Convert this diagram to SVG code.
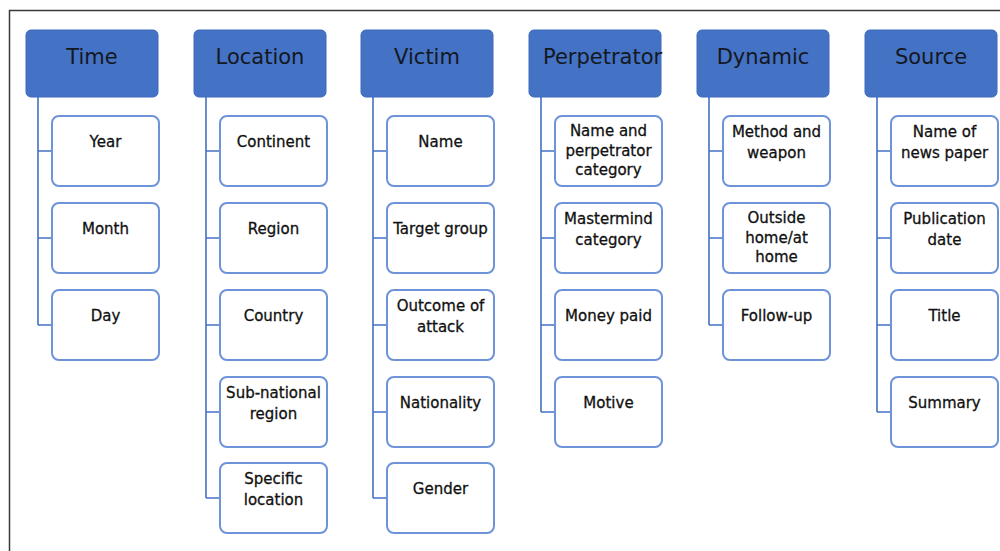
<svg xmlns="http://www.w3.org/2000/svg" width="1000" height="551" viewBox="0 0 1000 551">
<style>
.hdr{fill:#4472C4;stroke:#3F6BBD;stroke-width:1}
.hdr-t{font-family:"DejaVu Sans",sans-serif;font-size:21px;fill:#14181f;text-anchor:middle}
.kid{fill:#ffffff;stroke:#6E93D8;stroke-width:2}
.kid-t{font-family:"DejaVu Sans",sans-serif;font-size:15px;fill:#111111;stroke:#111111;stroke-width:0.3;text-anchor:middle}
.conn{fill:none;stroke:#4472C4;stroke-width:1.6}
.frame{fill:none;stroke:#3a3a3a;stroke-width:1.5}
</style>
<rect width="1000" height="551" fill="#ffffff"/>
<path class="frame" d="M1000 10.5 H9.5 V551"/>
<g id="connectors">
<path class="conn" d="M38 97 V325 M38 151 H52 M38 238 H52 M38 325 H52"/>
<path class="conn" d="M206 97 V498 M206 151 H220 M206 238 H220 M206 325 H220 M206 412 H220 M206 498 H220"/>
<path class="conn" d="M373 97 V498 M373 151 H387 M373 238 H387 M373 325 H387 M373 412 H387 M373 498 H387"/>
<path class="conn" d="M541 97 V412 M541 151 H555 M541 238 H555 M541 325 H555 M541 412 H555"/>
<path class="conn" d="M709 97 V325 M709 151 H723 M709 238 H723 M709 325 H723"/>
<path class="conn" d="M877 97 V412 M877 151 H891 M877 238 H891 M877 325 H891 M877 412 H891"/>
</g>
<g id="time">
<rect class="hdr" x="26" y="30" width="132" height="67" rx="5"/>
<text class="hdr-t" x="92" y="64">Time</text>
</g>
<g id="time-year"><rect class="kid" x="52" y="116" width="107" height="70" rx="7"/><text class="kid-t" x="105.5" y="147">Year</text></g>
<g id="time-month"><rect class="kid" x="52" y="203" width="107" height="70" rx="7"/><text class="kid-t" x="105.5" y="234">Month</text></g>
<g id="time-day"><rect class="kid" x="52" y="290" width="107" height="70" rx="7"/><text class="kid-t" x="105.5" y="321">Day</text></g>

<g id="location">
<rect class="hdr" x="194" y="30" width="132" height="67" rx="5"/>
<text class="hdr-t" x="260" y="64">Location</text>
</g>
<g id="loc-continent"><rect class="kid" x="220" y="116" width="107" height="70" rx="7"/><text class="kid-t" x="273.5" y="147">Continent</text></g>
<g id="loc-region"><rect class="kid" x="220" y="203" width="107" height="70" rx="7"/><text class="kid-t" x="273.5" y="234">Region</text></g>
<g id="loc-country"><rect class="kid" x="220" y="290" width="107" height="70" rx="7"/><text class="kid-t" x="273.5" y="321">Country</text></g>
<g id="loc-subnational"><rect class="kid" x="220" y="377" width="107" height="70" rx="7"/><text class="kid-t" x="273.5" y="398">Sub-national</text><text class="kid-t" x="273.5" y="418.5">region</text></g>
<g id="loc-specific"><rect class="kid" x="220" y="463" width="107" height="70" rx="7"/><text class="kid-t" x="273.5" y="484">Specific</text><text class="kid-t" x="273.5" y="504.5">location</text></g>

<g id="victim">
<rect class="hdr" x="361" y="30" width="132" height="67" rx="5"/>
<text class="hdr-t" x="427" y="64">Victim</text>
</g>
<g id="vic-name"><rect class="kid" x="387" y="116" width="107" height="70" rx="7"/><text class="kid-t" x="440.5" y="147">Name</text></g>
<g id="vic-target"><rect class="kid" x="387" y="203" width="107" height="70" rx="7"/><text class="kid-t" x="440.5" y="234">Target group</text></g>
<g id="vic-outcome"><rect class="kid" x="387" y="290" width="107" height="70" rx="7"/><text class="kid-t" x="440.5" y="311">Outcome of</text><text class="kid-t" x="440.5" y="331.5">attack</text></g>
<g id="vic-nationality"><rect class="kid" x="387" y="377" width="107" height="70" rx="7"/><text class="kid-t" x="440.5" y="408">Nationality</text></g>
<g id="vic-gender"><rect class="kid" x="387" y="463" width="107" height="70" rx="7"/><text class="kid-t" x="440.5" y="494">Gender</text></g>

<g id="perpetrator">
<rect class="hdr" x="529" y="30" width="132" height="67" rx="5"/>
<text class="hdr-t" x="543" y="64" style="text-anchor:start">Perpetrator</text>
</g>
<g id="perp-name"><rect class="kid" x="555" y="116" width="107" height="70" rx="7"/><text class="kid-t" x="608.5" y="136">Name and</text><text class="kid-t" x="608.5" y="155.5">perpetrator</text><text class="kid-t" x="608.5" y="175">category</text></g>
<g id="perp-mastermind"><rect class="kid" x="555" y="203" width="107" height="70" rx="7"/><text class="kid-t" x="608.5" y="224">Mastermind</text><text class="kid-t" x="608.5" y="244.5">category</text></g>
<g id="perp-money"><rect class="kid" x="555" y="290" width="107" height="70" rx="7"/><text class="kid-t" x="608.5" y="321">Money paid</text></g>
<g id="perp-motive"><rect class="kid" x="555" y="377" width="107" height="70" rx="7"/><text class="kid-t" x="608.5" y="408">Motive</text></g>

<g id="dynamic">
<rect class="hdr" x="697" y="30" width="132" height="67" rx="5"/>
<text class="hdr-t" x="763" y="64">Dynamic</text>
</g>
<g id="dyn-method"><rect class="kid" x="723" y="116" width="107" height="70" rx="7"/><text class="kid-t" x="776.5" y="137">Method and</text><text class="kid-t" x="776.5" y="157.5">weapon</text></g>
<g id="dyn-outside"><rect class="kid" x="723" y="203" width="107" height="70" rx="7"/><text class="kid-t" x="776.5" y="223">Outside</text><text class="kid-t" x="776.5" y="242.5">home/at</text><text class="kid-t" x="776.5" y="262">home</text></g>
<g id="dyn-followup"><rect class="kid" x="723" y="290" width="107" height="70" rx="7"/><text class="kid-t" x="776.5" y="321">Follow-up</text></g>

<g id="source">
<rect class="hdr" x="865" y="30" width="132" height="67" rx="5"/>
<text class="hdr-t" x="931" y="64">Source</text>
</g>
<g id="src-newspaper"><rect class="kid" x="891" y="116" width="107" height="70" rx="7"/><text class="kid-t" x="944.5" y="137">Name of</text><text class="kid-t" x="944.5" y="157.5">news paper</text></g>
<g id="src-date"><rect class="kid" x="891" y="203" width="107" height="70" rx="7"/><text class="kid-t" x="944.5" y="224">Publication</text><text class="kid-t" x="944.5" y="244.5">date</text></g>
<g id="src-title"><rect class="kid" x="891" y="290" width="107" height="70" rx="7"/><text class="kid-t" x="944.5" y="321">Title</text></g>
<g id="src-summary"><rect class="kid" x="891" y="377" width="107" height="70" rx="7"/><text class="kid-t" x="944.5" y="408">Summary</text></g>
</svg>
